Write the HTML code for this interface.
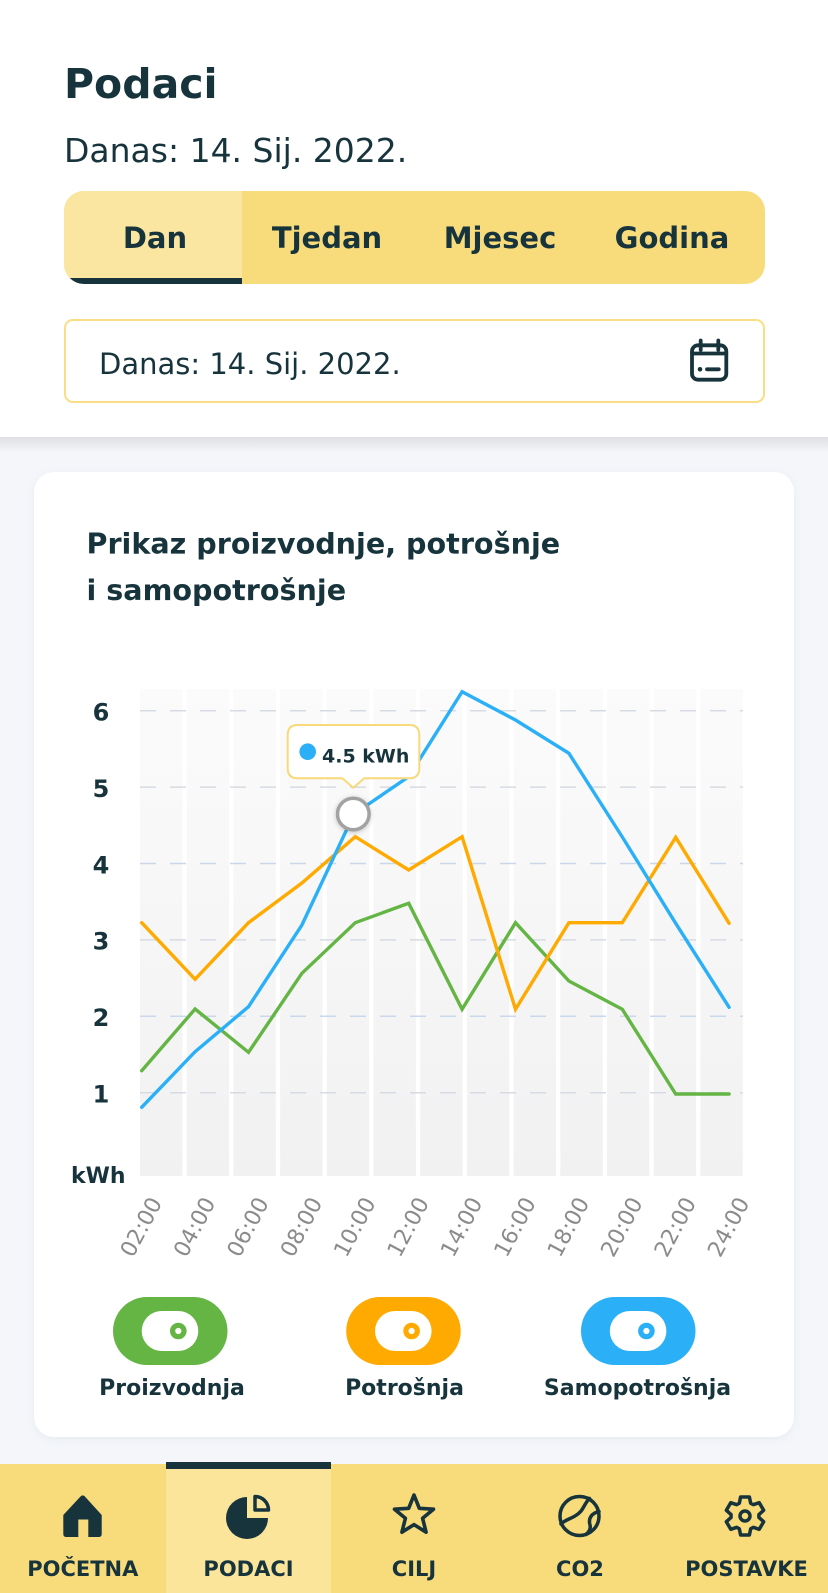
<!DOCTYPE html>
<html><head><meta charset="utf-8">
<style>
html,body{margin:0;padding:0;background:#f4f6fa;}
body{width:828px;height:1593px;overflow:hidden;}
svg{display:block;font-family:"DejaVu Sans","Liberation Sans",sans-serif;}
</style></head>
<body>
<svg width="828" height="1593" viewBox="0 0 828 1593" xmlns="http://www.w3.org/2000/svg">
<defs>
  <linearGradient id="hdrShadow" x1="0" y1="0" x2="0" y2="1">
    <stop offset="0" stop-color="#000" stop-opacity="0.09"/>
    <stop offset="1" stop-color="#000" stop-opacity="0"/>
  </linearGradient>
  <linearGradient id="barG" x1="0" y1="0" x2="0" y2="1">
    <stop offset="0" stop-color="#fbfbfb"/>
    <stop offset="1" stop-color="#f1f1f2"/>
  </linearGradient>
  <clipPath id="tabClip"><rect x="64" y="191" width="701" height="93" rx="20" ry="20"/></clipPath>
  <filter id="cardSh" x="-10%" y="-10%" width="120%" height="120%">
    <feDropShadow dx="0" dy="2" stdDeviation="4" flood-color="#8090a0" flood-opacity="0.12"/>
  </filter>
  <filter id="dotSh" x="-50%" y="-50%" width="200%" height="200%">
    <feDropShadow dx="0" dy="1" stdDeviation="2.5" flood-color="#000" flood-opacity="0.22"/>
  </filter>
</defs>

<!-- header -->
<rect x="0" y="0" width="828" height="437" fill="#ffffff"/>
<rect x="0" y="437" width="828" height="16" fill="url(#hdrShadow)"/>
<text x="64" y="98" font-size="41" font-weight="bold" fill="#17343d">Podaci</text>
<text x="64" y="162" font-size="33" fill="#17343d">Danas: 14. Sij. 2022.</text>

<!-- tabs -->
<g clip-path="url(#tabClip)">
  <rect x="64" y="191" width="701" height="93" fill="#f8db7b"/>
  <rect x="64" y="191" width="178" height="93" fill="#fae6a0"/>
  <rect x="64" y="278" width="178" height="6" fill="#17343d"/>
</g>
<g font-size="29" font-weight="bold" fill="#17343d" text-anchor="middle">
  <text x="155" y="248">Dan</text>
  <text x="327" y="248">Tjedan</text>
  <text x="500" y="248">Mjesec</text>
  <text x="672" y="248">Godina</text>
</g>

<!-- date box -->
<rect x="65" y="320" width="699" height="82" rx="8" ry="8" fill="#fff" stroke="#f9de86" stroke-width="2"/>
<text x="99" y="374" font-size="29" fill="#17343d">Danas: 14. Sij. 2022.</text>
<g fill="none" stroke="#17343d" stroke-width="3.8" stroke-linecap="round" stroke-linejoin="round">
  <rect x="692" y="345.3" width="34.3" height="34.4" rx="6" ry="6"/>
  <line x1="700.7" y1="340.5" x2="700.7" y2="350"/>
  <line x1="718.3" y1="340.5" x2="718.3" y2="350"/>
  <line x1="692" y1="353.5" x2="726.3" y2="353.5"/>
  <line x1="707" y1="369.3" x2="718.8" y2="369.3"/>
</g>
<circle cx="700" cy="369.3" r="2.3" fill="#17343d"/>

<!-- card -->
<rect x="34" y="472" width="760" height="965" rx="20" ry="20" fill="#ffffff" filter="url(#cardSh)"/>
<g font-size="28.6" font-weight="bold" fill="#17343d">
  <text x="86.5" y="553.5">Prikaz proizvodnje, potrošnje</text>
  <text x="86.5" y="600">i samopotrošnje</text>
</g>

<!-- bars -->
<g fill="url(#barG)">
  <rect x="140" y="689" width="42.4" height="487"/>
  <rect x="186.7" y="689" width="42.4" height="487"/>
  <rect x="233.4" y="689" width="42.4" height="487"/>
  <rect x="280.1" y="689" width="42.4" height="487"/>
  <rect x="326.8" y="689" width="42.4" height="487"/>
  <rect x="373.5" y="689" width="42.4" height="487"/>
  <rect x="420.2" y="689" width="42.4" height="487"/>
  <rect x="466.9" y="689" width="42.4" height="487"/>
  <rect x="513.6" y="689" width="42.4" height="487"/>
  <rect x="560.3" y="689" width="42.4" height="487"/>
  <rect x="607" y="689" width="42.4" height="487"/>
  <rect x="653.7" y="689" width="42.4" height="487"/>
  <rect x="700.4" y="689" width="42.4" height="487"/>
</g>

<!-- grid -->
<g stroke-width="1.5" stroke-dasharray="16 14">
  <line x1="140" y1="710.7" x2="743" y2="710.7" stroke="#d6dbe3"/>
  <line x1="140" y1="787.1" x2="743" y2="787.1" stroke="#d6dbe3"/>
  <line x1="140" y1="863.5" x2="743" y2="863.5" stroke="#cbd7e8"/>
  <line x1="140" y1="939.9" x2="743" y2="939.9" stroke="#d6dbe3"/>
  <line x1="140" y1="1016.3" x2="743" y2="1016.3" stroke="#c9d8ec"/>
  <line x1="140" y1="1092.7" x2="743" y2="1092.7" stroke="#d6dbe3"/>
</g>

<!-- y labels -->
<g font-size="24" font-weight="bold" fill="#17343d" text-anchor="middle">
  <text x="101" y="720.5">6</text>
  <text x="101" y="796.9">5</text>
  <text x="101" y="873.3">4</text>
  <text x="101" y="949.7">3</text>
  <text x="101" y="1026.1">2</text>
  <text x="101" y="1102.5">1</text>
</g>
<text x="71" y="1183" font-size="22" font-weight="bold" fill="#17343d">kWh</text>

<!-- x labels -->
<g font-size="22" fill="#8b8b8b" text-anchor="middle">
  <text transform="translate(147.7,1230.5) rotate(-62)">02:00</text>
  <text transform="translate(201.1,1230.5) rotate(-62)">04:00</text>
  <text transform="translate(254.5,1230.5) rotate(-62)">06:00</text>
  <text transform="translate(307.9,1230.5) rotate(-62)">08:00</text>
  <text transform="translate(361.3,1230.5) rotate(-62)">10:00</text>
  <text transform="translate(414.7,1230.5) rotate(-62)">12:00</text>
  <text transform="translate(468.1,1230.5) rotate(-62)">14:00</text>
  <text transform="translate(521.5,1230.5) rotate(-62)">16:00</text>
  <text transform="translate(574.9,1230.5) rotate(-62)">18:00</text>
  <text transform="translate(628.3,1230.5) rotate(-62)">20:00</text>
  <text transform="translate(681.7,1230.5) rotate(-62)">22:00</text>
  <text transform="translate(735.1,1230.5) rotate(-62)">24:00</text>
</g>

<!-- series -->
<g fill="none" stroke-width="3.4" stroke-linecap="round" stroke-linejoin="miter">
  <polyline stroke="#65b545" points="141.7,1070.7 195.1,1009 248.5,1052.3 301.9,973.3 355.3,922.7 408.7,903.3 462.1,1009.3 515.5,922.7 568.9,981 622.3,1009.3 675.7,1094 729.1,1094"/>
  <polyline stroke="#ffaa00" points="141.7,922.7 195.1,979.3 248.5,922.7 301.9,883 355.3,836.7 408.7,870 462.1,836.7 515.5,1009.3 568.9,922.7 622.3,922.7 675.7,837.3 729.1,923.3"/>
  <polyline stroke="#2bb0f8" points="141.7,1107.3 195.1,1051.7 248.5,1006.7 301.9,925 354,814 408.7,776.7 462.1,691.7 515.5,720 568.9,753.3 622.3,837 675.7,923.3 729.1,1007.3"/>
</g>

<!-- tooltip -->
<path d="M297.7,725 H409.3 Q419.3,725 419.3,735 V768.3 Q419.3,778.3 409.3,778.3 H364.3 L353.3,787.7 L342.3,778.3 H297.7 Q287.7,778.3 287.7,768.3 V735 Q287.7,725 297.7,725 Z" fill="#ffffff" stroke="#f7d97a" stroke-width="2"/>
<circle cx="307.7" cy="751.7" r="8.3" fill="#2bb0f8"/>
<text x="322" y="762.7" font-size="19" font-weight="bold" fill="#17343d">4.5 kWh</text>
<circle cx="353.3" cy="814" r="15.8" fill="#ffffff" stroke="#a2a2a2" stroke-width="3.5" filter="url(#dotSh)"/>

<!-- legend -->
<rect x="113" y="1297" width="114.5" height="68" rx="34" ry="34" fill="#65b545"/>
<rect x="141.7" y="1311" width="56.6" height="40" rx="20" ry="20" fill="#fff"/>
<circle cx="178.3" cy="1331" r="5.7" fill="none" stroke="#65b545" stroke-width="5.2"/>

<rect x="346.2" y="1297" width="114.5" height="68" rx="34" ry="34" fill="#ffaa00"/>
<rect x="375" y="1311" width="56.6" height="40" rx="20" ry="20" fill="#fff"/>
<circle cx="411.6" cy="1331" r="5.7" fill="none" stroke="#ffaa00" stroke-width="5.2"/>

<rect x="581" y="1297" width="114.5" height="68" rx="34" ry="34" fill="#2bb0f8"/>
<rect x="609.8" y="1311" width="56.6" height="40" rx="20" ry="20" fill="#fff"/>
<circle cx="646.4" cy="1331" r="5.7" fill="none" stroke="#2bb0f8" stroke-width="5.2"/>

<g font-size="22" font-weight="bold" fill="#17343d" text-anchor="middle">
  <text x="172" y="1395">Proizvodnja</text>
  <text x="404.5" y="1395">Potrošnja</text>
  <text x="637.5" y="1395">Samopotrošnja</text>
</g>

<!-- bottom nav -->
<rect x="0" y="1464" width="828" height="129" fill="#f8db7b"/>
<rect x="166" y="1464" width="165" height="129" fill="#fae59b"/>
<rect x="166" y="1462" width="165" height="7" fill="#17343d"/>

<!-- home -->
<path d="M63.3,1515 L80.5,1496.5 Q82.7,1494.2 84.9,1496.5 L101.7,1515 V1534 Q101.7,1537 98.7,1537 H66.3 Q63.3,1537 63.3,1534 Z" fill="#17343d"/>
<rect x="78.3" y="1519.5" width="10" height="17.5" fill="#f8db7b"/>
<!-- pie -->
<path d="M247,1518 L247,1497 A21,21 0 1,0 268,1518 Z" fill="#17343d"/>
<path d="M255,1510 V1496.5 A13.5,13.5 0 0 1 268.5,1510 Z" fill="none" stroke="#17343d" stroke-width="3.5" stroke-linejoin="round"/>
<!-- star -->
<polygon points="414,1495 419.3,1508.3 433.5,1509.2 422.6,1518.3 426.1,1532.2 414,1524.6 401.9,1532.2 405.4,1518.3 394.5,1509.2 408.7,1508.3" fill="none" stroke="#17343d" stroke-width="3.6" stroke-linejoin="round"/>
<!-- globe -->
<g fill="none" stroke="#17343d" stroke-width="3.5" stroke-linecap="round">
  <circle cx="579.5" cy="1516" r="19.5"/>
  <path d="M589.5,1498.5 C583,1505 584,1511 575,1516 C569,1519.5 565,1520 561,1524"/>
  <path d="M599,1511.5 C592,1513 588,1518 590,1525 C591,1529 589,1532 586,1534.5"/>
</g>
<!-- gear -->
<polygon points="739.31,1503.21 740.61,1497.0 749.39,1497.0 750.69,1503.21 753.23,1504.67 759.26,1502.7 763.65,1510.3 758.92,1514.54 758.92,1517.46 763.65,1521.7 759.26,1529.3 753.23,1527.33 750.69,1528.79 749.39,1535.0 740.61,1535.0 739.31,1528.79 736.77,1527.33 730.74,1529.3 726.35,1521.7 731.08,1517.46 731.08,1514.54 726.35,1510.3 730.74,1502.7 736.77,1504.67" fill="none" stroke="#17343d" stroke-width="3.5" stroke-linejoin="round"/>
<circle cx="745" cy="1516" r="5" fill="none" stroke="#17343d" stroke-width="3.5"/>

<g font-size="21" font-weight="bold" fill="#17343d" text-anchor="middle">
  <text x="82.8" y="1576">POČETNA</text>
  <text x="248.5" y="1576">PODACI</text>
  <text x="414" y="1576">CILJ</text>
  <text x="580" y="1576">CO2</text>
  <text x="746.5" y="1576">POSTAVKE</text>
</g>
</svg>
</body></html>
